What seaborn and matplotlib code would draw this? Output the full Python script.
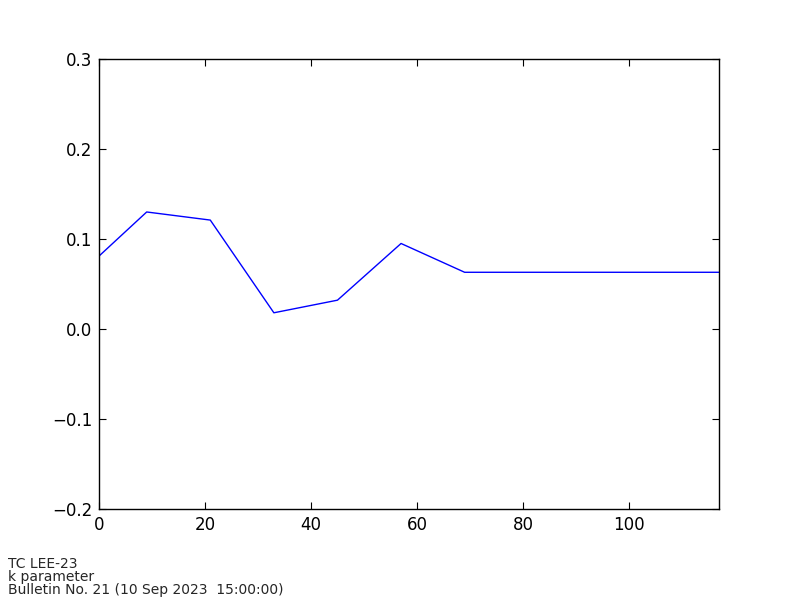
import pandas as pd
import matplotlib
matplotlib.use("Agg")
import matplotlib.pyplot as plt
import seaborn as sns

# k parameter by forecast hour
hours = [0, 9, 21, 33, 45, 57, 69, 81, 93, 105, 117]
k_values = [0.081, 0.130, 0.121, 0.018, 0.032, 0.095, 0.063, 0.063, 0.063, 0.063, 0.063]
y_ticks = [-0.2, -0.1, 0.0, 0.1, 0.2, 0.3]
x_ticks = [0, 20, 40, 60, 80, 100]
footer_lines = ["TC LEE-23", "k parameter", "Bulletin No. 21 (10 Sep 2023  15:00:00)"]

sns.set_style("ticks")
plt.rcParams['font.family'] = ['DejaVu Sans']
plt.rcParams['xtick.direction'] = 'in'
plt.rcParams['ytick.direction'] = 'in'

df = pd.DataFrame({'hour': hours, 'k': k_values})

fig = plt.figure(figsize=(8, 6), dpi=100)
ax = fig.add_axes([0.12375, 0.1517, 0.775, 0.75])
sns.lineplot(x='hour', y='k', data=df, ax=ax, color='blue', linewidth=1.0)

ax.set_xlim(0, 117)
ax.set_ylim(-0.2, 0.3)
ax.set_xticks(x_ticks)
ax.set_yticks(y_ticks)
ax.set_yticklabels(['\u22120.2', '\u22120.1', '0.0', '0.1', '0.2', '0.3'])
ax.set_xlabel('')
ax.set_ylabel('')
ax.tick_params(axis='both', which='both', direction='in', length=5, width=0.8,
               top=True, right=True, labelsize=12, colors='black', pad=5)
for spine in ax.spines.values():
    spine.set_visible(True)
    spine.set_color('black')
    spine.set_linewidth(1.0)

fig.text(0.01, 0.005, "\n".join(footer_lines), fontsize=10, ha='left', va='bottom',
         linespacing=0.9)

fig.savefig('out.png', dpi=100, facecolor='white')
plt.close()
